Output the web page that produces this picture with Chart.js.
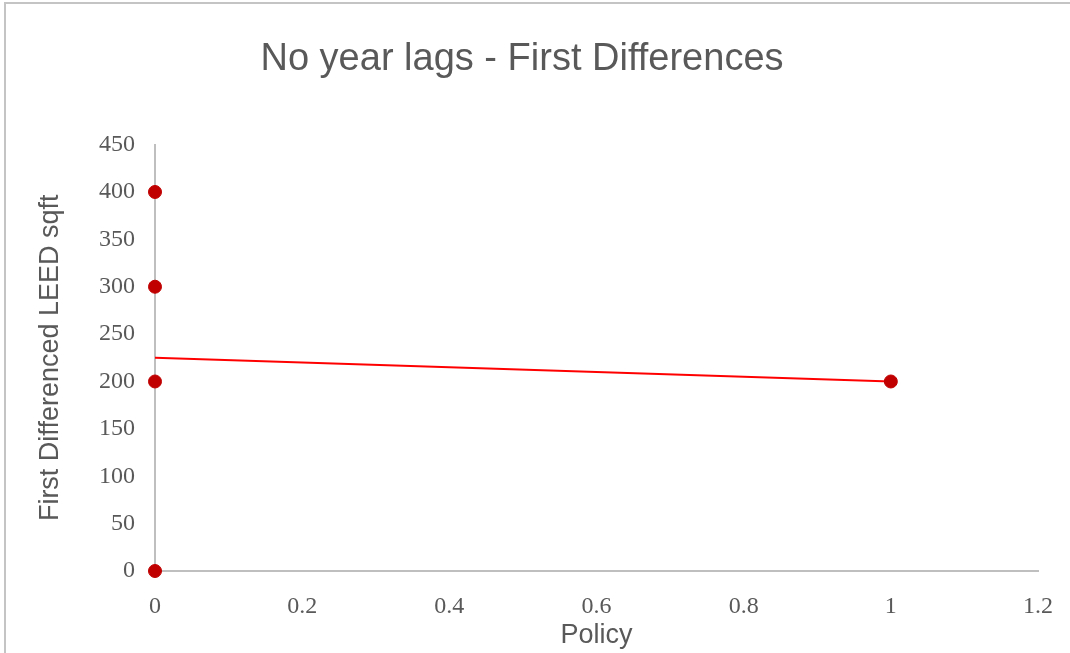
<!DOCTYPE html>
<html>
<head>
<meta charset="utf-8">
<script src="https://cdn.jsdelivr.net/npm/chart.js@4.4.1/dist/chart.umd.min.js"></script>
<style>
  html, body { margin: 0; padding: 0; background: #ffffff; }
  #wrap {
    position: absolute; left: 0; top: 0; width: 1070px; height: 653px;
  }
  #frame {
    position: absolute; left: 4px; top: 2px; right: 0; bottom: 0;
    border-top: 2px solid #c4c4c4; border-left: 2px solid #c4c4c4;
    pointer-events: none;
  }
  canvas { position: absolute; left: 0; top: 0; }
</style>
</head>
<body>
<div id="wrap">
  <canvas id="chart" width="1070" height="653"></canvas>
  <div id="frame"></div>
</div>
<script>
// --- dữ liệu ---
const chartTitle = 'No year lags - First Differences';
const xAxisTitle = 'Policy';
const yAxisTitle = 'First Differenced LEED sqft';

const policyValues = [0, 0, 0, 0, 1];
const sqftValues = [400, 300, 200, 0, 200];

// đường xu hướng tuyến tính
const trendX = [0, 1];
const trendY = [225, 200];

const xTickLabels = ['0', '0.2', '0.4', '0.6', '0.8', '1', '1.2'];
const yTickLabels = ['0', '50', '100', '150', '200', '250', '300', '350', '400', '450'];

const GREY_TEXT = '#595959';
const AXIS_LINE = '#bfbfbf';

const points = policyValues.map((x, i) => ({ x: x, y: sqftValues[i] }));
const trend = trendX.map((x, i) => ({ x: x, y: trendY[i] }));

const ctx = document.getElementById('chart');

new Chart(ctx, {
    type: 'scatter',
    data: {
        datasets: [
            {
                label: 'Trend',
                type: 'line',
                data: trend,
                borderColor: '#ff0000',
                borderWidth: 2,
                pointRadius: 0,
                fill: false,
                clip: false,
                order: 2
            },
            {
                label: 'Data',
                data: points,
                backgroundColor: '#c00000',
                borderColor: '#c00000',
                pointRadius: 6.5,
                pointHoverRadius: 6.5,
                clip: false,
                order: 1
            }
        ]
    },
    options: {
        responsive: false,
        animation: false,
        events: [],
        layout: { padding: { left: 6, right: 32, top: 0, bottom: 1 } },
        plugins: {
            legend: { display: false },
            tooltip: { enabled: false },
            title: {
                display: true,
                text: chartTitle,
                color: GREY_TEXT,
                font: { family: 'Liberation Sans, Arial, sans-serif', size: 38, weight: 'normal' },
                padding: { top: 37, bottom: 62 }
            }
        },
        scales: {
            x: {
                type: 'linear',
                min: 0,
                max: 1.2,
                ticks: {
                    stepSize: 0.2,
                    color: GREY_TEXT,
                    padding: 21,
                    font: { family: 'Liberation Serif, Times New Roman, serif', size: 24 },
                    callback: function(value) {
                        const idx = Math.round(value / 0.2);
                        return xTickLabels[idx];
                    }
                },
                grid: { display: false, drawTicks: false },
                border: { display: true, color: AXIS_LINE, width: 2 },
                title: {
                    display: true,
                    text: xAxisTitle,
                    color: GREY_TEXT,
                    font: { family: 'Liberation Sans, Arial, sans-serif', size: 27 },
                    padding: { top: 0, bottom: 0 }
                },
                afterFit: function(scale) {
                    scale.height = 81;
                    scale.paddingLeft = 0;
                    scale.paddingRight = 0;
                }
            },
            y: {
                type: 'linear',
                min: 0,
                max: 450,
                ticks: {
                    stepSize: 50,
                    color: GREY_TEXT,
                    padding: 20,
                    font: { family: 'Liberation Serif, Times New Roman, serif', size: 24 },
                    callback: function(value) {
                        return yTickLabels[Math.round(value / 50)];
                    }
                },
                grid: { display: false, drawTicks: false },
                border: { display: true, color: AXIS_LINE, width: 2 },
                title: {
                    display: true,
                    text: yAxisTitle,
                    color: GREY_TEXT,
                    font: { family: 'Liberation Sans, Arial, sans-serif', size: 27 },
                    padding: { top: 28, bottom: 0 }
                },
                afterFit: function(scale) { scale.width = 149; }
            }
        }
    }
});
</script>
</body>
</html>
